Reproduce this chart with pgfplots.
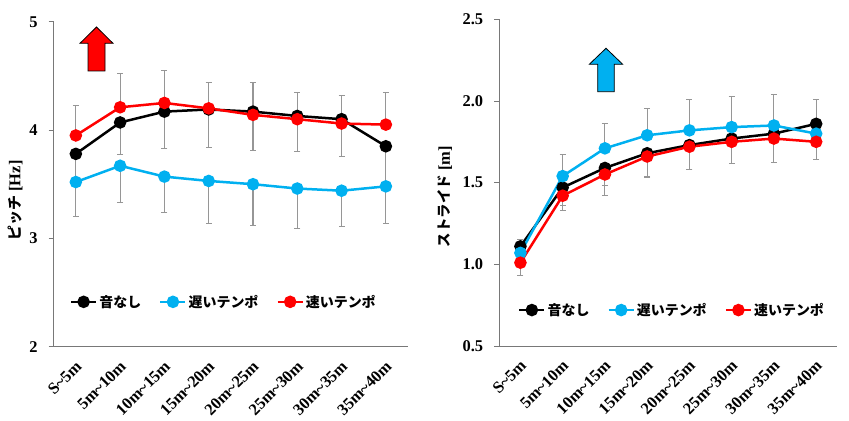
\documentclass[border=0pt]{standalone}
\usepackage{fontspec}
\setmainfont{Liberation Serif}
\newfontfamily\jp{Noto Sans CJK JP}
\usepackage{pgfplots}
\pgfplotsset{compat=1.18}
\definecolor{cblue}{RGB}{0,176,240}
\definecolor{cred}{RGB}{255,0,0}
\definecolor{axgray}{RGB}{120,120,120}
\definecolor{errgray}{RGB}{150,150,150}
\pgfplotsset{
  mystyle/.style={
    scale only axis,
    axis lines*=left,
    axis line style={axgray, line width=0.9bp, -},
    xmin=-0.5, xmax=7.5,
    xtick={0,...,7},
    xticklabels={S\textasciitilde5m,5m\textasciitilde10m,10m\textasciitilde15m,15m\textasciitilde20m,20m\textasciitilde25m,25m\textasciitilde30m,30m\textasciitilde35m,35m\textasciitilde40m},
    xtick style={draw=none},
    ytick style={axgray, line width=0.9bp},
    tick align=outside,
    major tick length=5bp,
    /pgf/number format/assume math mode=true,
    tick label style={font=\fontsize{16.5}{18}\selectfont\bfseries},
    xticklabel style={yshift=-12bp, xshift=3bp, rotate=45, anchor=east, inner sep=0bp},
    yticklabel style={inner sep=1bp, xshift=-10bp},
    legend columns=3,
    legend style={draw=none, fill=none, font=\jp\bfseries\fontsize{14}{16}\selectfont, anchor=center,
      /tikz/every even column/.append style={column sep=16bp}},
    legend cell align=left,
    legend image code/.code={\draw[mark repeat=2,mark phase=2] plot coordinates {(0bp,0bp) (12.5bp,0bp) (25bp,0bp)};},
    ylabel style={font=\fontsize{16.5}{18}\selectfont\bfseries, anchor=center, rotate=0},
  },
  ser/.style={line width=2.5bp, mark=*, mark size=5bp, mark options={solid}},
  eb/.style={forget plot, draw=none, mark=none,
    error bars/.cd, y explicit, y dir=#1,
    error bar style={draw=errgray, line width=1.1bp},
    error mark options={draw=errgray, rotate=90, mark size=3bp, line width=1bp}},
}
\begin{document}
\begin{tikzpicture}
\useasboundingbox (0,0) rectangle (849bp,421bp);
% ---------- left: pitch ----------
\begin{axis}[mystyle,
  at={(53.7bp,74.3bp)}, anchor=south west,
  width=354.3bp, height=325bp,
  ymin=2, ymax=5, ytick={2,3,4,5},
  ylabel={{\jp\bfseries\fontsize{15}{17}\selectfont ピッチ} [Hz]},
  ylabel style={at={(axis description cs:-0.109,0.45)}},
  legend style={at={(axis description cs:0.48,0.138)}},
]
\addplot[eb=plus] coordinates {(0,3.95) +- (0,0.28) (1,4.21) +- (0,0.31) (2,4.25) +- (0,0.30) (3,4.20) +- (0,0.24) (4,4.14) +- (0,0.30) (5,4.10) +- (0,0.25) (6,4.06) +- (0,0.26) (7,4.05) +- (0,0.30)};
\addplot[eb=minus] coordinates {(0,3.78) +- (0,0.30) (1,4.07) +- (0,0.30) (2,4.17) +- (0,0.34) (3,4.19) +- (0,0.35) (4,4.17) +- (0,0.36) (5,4.13) +- (0,0.33) (6,4.10) +- (0,0.34) (7,3.85) +- (0,0.35)};
\addplot[eb=minus] coordinates {(0,3.52) +- (0,0.32) (1,3.67) +- (0,0.34) (2,3.57) +- (0,0.33) (3,3.53) +- (0,0.39) (4,3.50) +- (0,0.38) (5,3.46) +- (0,0.37) (6,3.44) +- (0,0.33) (7,3.48) +- (0,0.34)};
\addplot[ser, black] coordinates {(0,3.78) (1,4.07) (2,4.17) (3,4.19) (4,4.17) (5,4.13) (6,4.10) (7,3.85)};
\addlegendentry{音なし}
\addplot[ser, cblue] coordinates {(0,3.52) (1,3.67) (2,3.57) (3,3.53) (4,3.50) (5,3.46) (6,3.44) (7,3.48)};
\addlegendentry{遅いテンポ}
\addplot[ser, cred] coordinates {(0,3.95) (1,4.21) (2,4.25) (3,4.20) (4,4.14) (5,4.10) (6,4.06) (7,4.05)};
\addlegendentry{速いテンポ}
\end{axis}
% ---------- right: stride ----------
\begin{axis}[mystyle,
  at={(499.3bp,75bp)}, anchor=south west,
  width=338bp, height=326.7bp,
  ymin=0.5, ymax=2.5, ytick={0.5,1.0,1.5,2.0,2.5},
  yticklabel={\pgfmathprintnumber[fixed,fixed zerofill,precision=1]{\tick}},
  ylabel={{\jp\bfseries\fontsize{14.5}{17}\selectfont ストライド} [m]},
  ylabel style={at={(axis description cs:-0.161,0.457)}},
  legend style={at={(axis description cs:0.511,0.11)}},
]
\addplot[eb=plus] coordinates {(0,1.07) +- (0,0.08) (1,1.54) +- (0,0.135) (2,1.71) +- (0,0.15) (3,1.79) +- (0,0.165) (4,1.82) +- (0,0.19) (5,1.84) +- (0,0.19) (6,1.85) +- (0,0.19) (7,1.80) +- (0,0.21)};
\addplot[eb=minus] coordinates {(0,1.11) +- (0,0.10) (1,1.47) +- (0,0.11) (2,1.59) +- (0,0.11) (3,1.68) +- (0,0.14) (4,1.73) +- (0,0.15) (5,1.77) +- (0,0.15) (6,1.80) +- (0,0.175) (7,1.86) +- (0,0.22)};
\addplot[eb=minus] coordinates {(0,1.01) +- (0,0.08) (1,1.42) +- (0,0.09) (2,1.55) +- (0,0.13) (3,1.66) +- (0,0.13) (4,1.72) +- (0,0.14) (5,1.75) +- (0,0.13) (6,1.77) +- (0,0.145) (7,1.75) +- (0,0.11)};
\addplot[ser, black] coordinates {(0,1.11) (1,1.47) (2,1.59) (3,1.68) (4,1.73) (5,1.77) (6,1.80) (7,1.86)};
\addlegendentry{音なし}
\addplot[ser, cblue] coordinates {(0,1.07) (1,1.54) (2,1.71) (3,1.79) (4,1.82) (5,1.84) (6,1.85) (7,1.80)};
\addlegendentry{遅いテンポ}
\addplot[ser, cred] coordinates {(0,1.01) (1,1.42) (2,1.55) (3,1.66) (4,1.72) (5,1.75) (6,1.77) (7,1.75)};
\addlegendentry{速いテンポ}
\end{axis}
% ---------- arrows ----------
\draw[black, line width=0.8bp, fill=cred] (88bp,350bp) -- (88bp,377.7bp) -- (80bp,377.7bp) -- (96.5bp,394bp) -- (113bp,377.7bp) -- (105bp,377.7bp) -- (105bp,350bp) -- cycle;
\draw[black, line width=0.8bp, fill=cblue] (597.7bp,329.3bp) -- (597.7bp,356.7bp) -- (589.3bp,356.7bp) -- (606bp,372.7bp) -- (622.7bp,356.7bp) -- (614.3bp,356.7bp) -- (614.3bp,329.3bp) -- cycle;
\end{tikzpicture}
\end{document}
